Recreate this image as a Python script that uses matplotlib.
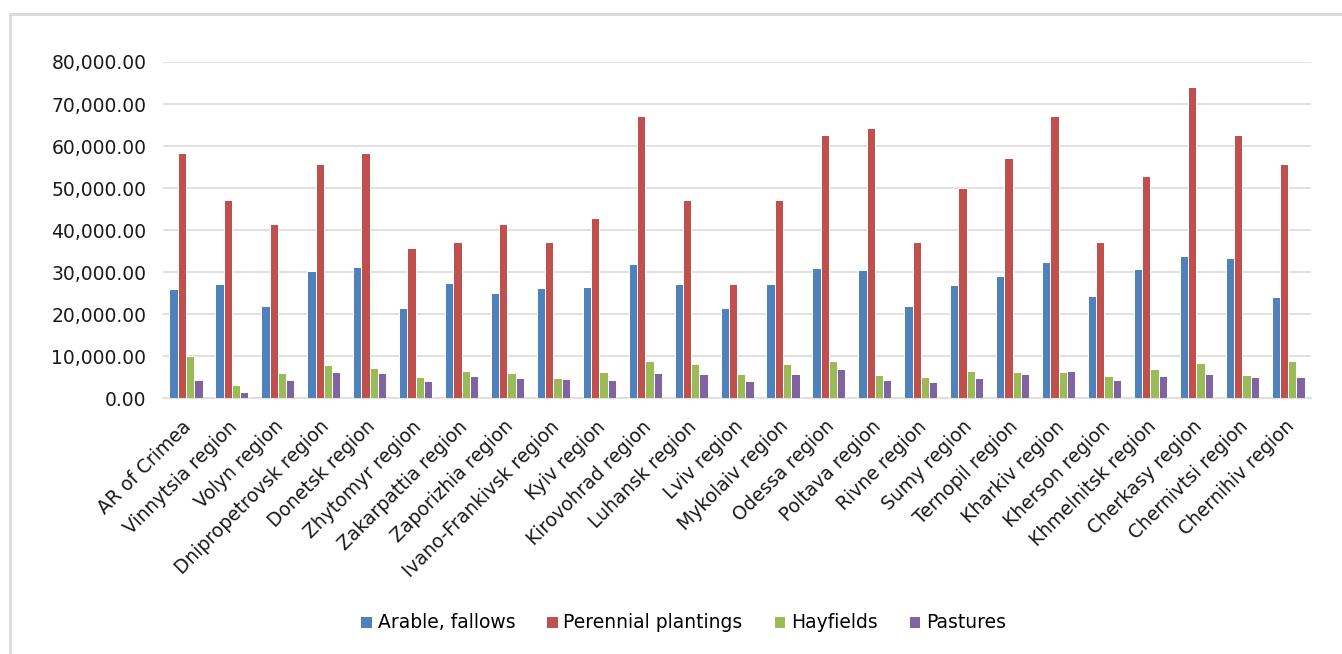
#!/usr/bin/env python3
import numpy as np
import matplotlib
matplotlib.use("Agg")
import matplotlib.pyplot as plt
import matplotlib.ticker as ticker
import matplotlib.transforms as mtransforms
from matplotlib.patches import Rectangle

regions = [
    "AR of Crimea", "Vinnytsia region", "Volyn region", "Dnipropetrovsk region",
    "Donetsk region", "Zhytomyr region", "Zakarpattia region", "Zaporizhia region",
    "Ivano-Frankivsk region", "Kyiv region", "Kirovohrad region", "Luhansk region",
    "Lviv region", "Mykolaiv region", "Odessa region", "Poltava region",
    "Rivne region", "Sumy region", "Ternopil region", "Kharkiv region",
    "Kherson region", "Khmelnitsk region", "Cherkasy region", "Chernivtsi region",
    "Chernihiv region",
]

arable = [26000, 27100, 21800, 30300, 31100, 21400, 27300, 25000, 26100, 26500,
          31900, 27100, 21500, 27100, 31000, 30500, 22000, 26800, 29100, 32300,
          24400, 30600, 33700, 33300, 24100]
perennial = [58400, 47100, 41400, 55600, 58400, 35700, 37100, 41400, 37100, 42800,
             67100, 47100, 27100, 47100, 62700, 64200, 37100, 49900, 57100, 67100,
             37100, 52800, 74100, 62700, 55600]
hayfields = [10100, 3100, 6000, 7900, 7200, 5000, 6500, 6000, 4800, 6300,
             8700, 8200, 5800, 8200, 8900, 5600, 5100, 6500, 6300, 6300,
             5300, 6800, 8400, 5600, 8700]
pastures = [4300, 1500, 4400, 6300, 6000, 4100, 5200, 4800, 4500, 4400,
            6000, 5800, 4100, 5800, 7000, 4300, 3700, 4700, 5700, 6400,
            4300, 5200, 5700, 5100, 5100]

series = [
    ("Arable, fallows", arable, "#4F81BD"),
    ("Perennial plantings", perennial, "#C0504D"),
    ("Hayfields", hayfields, "#9BBB59"),
    ("Pastures", pastures, "#8064A2"),
]

plt.rcParams["font.family"] = ["DejaVu Sans"]

fig = plt.figure(figsize=(13.42, 6.54), dpi=100)
ax = fig.add_axes([0.1215, 0.3914, 0.8555, 0.5138])

x = np.arange(len(regions))
width = 0.18
for i, (name, vals, color) in enumerate(series):
    ax.bar(x + (i - 1.5) * width, vals, width, color=color, label=name,
           edgecolor="white", linewidth=0.7, zorder=3)

ax.set_xlim(-0.5, len(regions) - 0.5)
ax.set_ylim(0, 80000)
ax.yaxis.set_major_locator(ticker.MultipleLocator(10000))
ax.yaxis.set_major_formatter(ticker.FuncFormatter(lambda v, p: f"{v:,.2f}"))
ax.grid(True, axis="y", color="#DEDADA", linewidth=1.2, zorder=0)

for s in ["top", "right", "left"]:
    ax.spines[s].set_visible(False)
ax.spines["bottom"].set_color("#DEDADA")
ax.spines["bottom"].set_linewidth(1.2)

ax.tick_params(axis="both", length=0, labelsize=13.5, colors="#1a1a1a")
ax.tick_params(axis="y", pad=12)
ax.set_xticks(x)
ax.set_xticklabels(regions, rotation=45, ha="right", rotation_mode="anchor")
ax.tick_params(axis="x", pad=10)

# nudge the slanted labels a little down and left
shift = mtransforms.ScaledTranslation(-4 / 100, -5 / 100, fig.dpi_scale_trans)
for lbl in ax.get_xticklabels():
    lbl.set_transform(lbl.get_transform() + shift)

fig.legend(loc="center", bbox_to_anchor=(0.509, 1 - 623 / 654), ncol=4,
           frameon=False, fontsize=13.5, handlelength=0.62, handleheight=0.62,
           handletextpad=0.3, columnspacing=1.65)

# light chart-area border
fig.patches.append(Rectangle((10 / 1342, -0.5), 1.2, 0.5 + 1 - 14 / 654,
                             transform=fig.transFigure, fill=False,
                             edgecolor="#D9D9D9", linewidth=2))

fig.savefig("out.png", dpi=100)
